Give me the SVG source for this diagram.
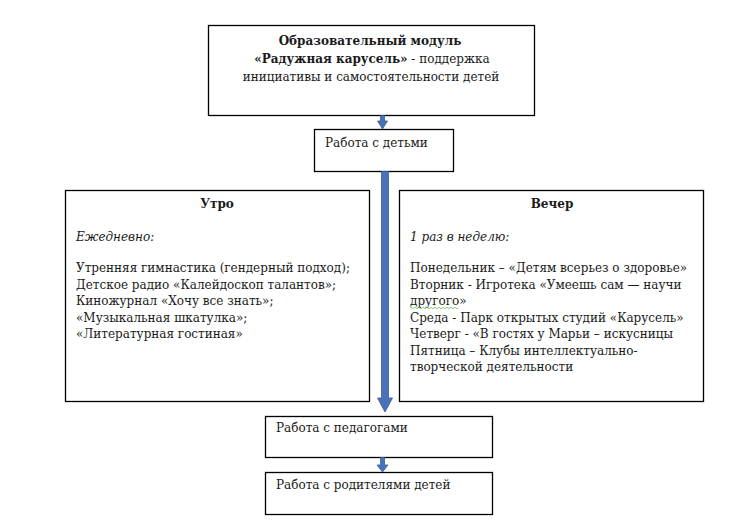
<svg xmlns="http://www.w3.org/2000/svg" width="748" height="523" viewBox="0 0 748 523">
<style>
.box{fill:#fff;stroke:#000;stroke-width:1.3}
.t{font-family:"DejaVu Serif","Liberation Serif",serif;font-size:12px;fill:#1a1a1a}
.b{font-weight:bold}
.i{font-style:italic}
.c{text-anchor:middle}
.arr{fill:#4a72b8;stroke:#3a5c98;stroke-width:0.8}
</style>
<rect width="748" height="523" fill="#fff"/>
<g id="module">
<rect class="box" x="208.5" y="25.5" width="326" height="90"/>
<text class="t c b" x="370" y="45">Образовательный модуль</text>
<text class="t c" x="372" y="63"><tspan class="b">«Радужная карусель»</tspan> - поддержка</text>
<text class="t c" x="371" y="81">инициативы  и самостоятельности  детей</text>
</g>
<g id="children">
<rect class="box" x="314.5" y="129.5" width="139" height="42"/>
<text class="t" x="325" y="147">Работа с детьми</text>
</g>
<g id="morning">
<rect class="box" x="65.5" y="190.5" width="304" height="211"/>
<text class="t c b" x="217" y="208">Утро</text>
<text class="t i" x="76" y="241">Ежедневно:</text>
<text class="t" x="76" y="272">Утренняя  гимнастика (гендерный подход);</text>
<text class="t" x="76" y="288.5">Детское радио «Калейдоскоп талантов»;</text>
<text class="t" x="76" y="305">Киножурнал  «Хочу все знать»;</text>
<text class="t" x="76" y="321.5">«Музыкальная шкатулка»;</text>
<text class="t" x="76" y="338">«Литературная гостиная»</text>
</g>
<g id="evening">
<rect class="box" x="399.5" y="190.5" width="304" height="211"/>
<text class="t c b" x="552" y="208">Вечер</text>
<text class="t i" x="410" y="241">1 раз в неделю:</text>
<text class="t" x="410" y="272">Понедельник  – «Детям  всерьез  о здоровье»</text>
<text class="t" x="410" y="288.5">Вторник - Игротека «Умеешь сам — научи</text>
<text class="t" x="410" y="305">другого»</text>
<text class="t" x="410" y="321.5">Среда - Парк открытых студий  «Карусель»</text>
<text class="t" x="410" y="338">Четверг - «В гостях у Марьи – искусницы</text>
<text class="t" x="410" y="354.5">Пятница  – Клубы интеллектуально-</text>
<text class="t" x="410" y="371">творческой  деятельности</text>
<path d="M410 308 q1 -1.5 2 0 t2 0 t2 0 t2 0 t2 0 t2 0 t2 0 t2 0 t2 0 t2 0 t2 0 t2 0 t2 0 t2 0 t2 0 t2 0 t2 0 t2 0 t2 0 t2 0 t2 0 t2 0 t2 0 t2 0" fill="none" stroke="#6fbf5a" stroke-width="0.8"/>
</g>
<g id="teachers">
<rect class="box" x="265.5" y="416.5" width="227" height="41"/>
<text class="t" x="276" y="432">Работа с педагогами</text>
</g>
<g id="parents">
<rect class="box" x="265.5" y="472.5" width="227" height="42"/>
<text class="t" x="276" y="489">Работа с родителями  детей</text>
</g>
<g id="connectors">
<path class="arr" d="M380.5 115.5 H384.5 V121 H387.5 L382.5 129 L377.5 121 H380.5 Z"/>
<path class="arr" d="M381.5 171.5 H388.5 V398 H392.5 L385 412 L377.5 398 H381.5 Z"/>
<path class="arr" d="M380.5 457.5 H384.5 V465 H388 L382.5 472 L377 465 H380.5 Z"/>
</g>
</svg>
